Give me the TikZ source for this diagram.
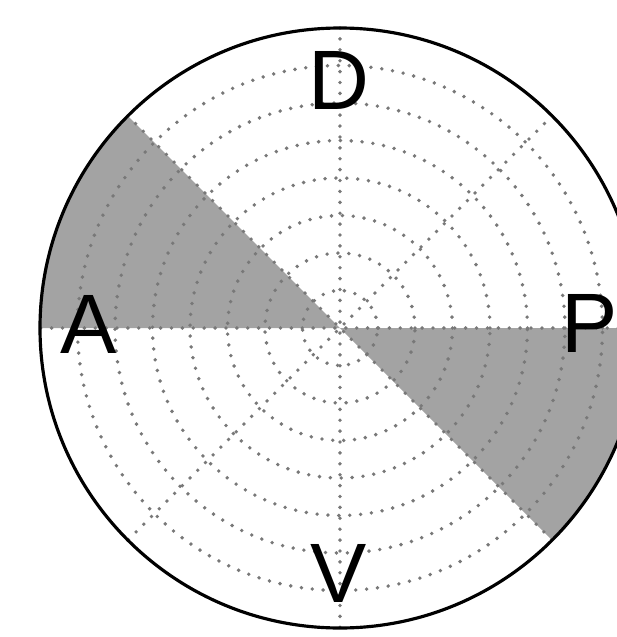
\documentclass[tikz,border=0pt]{standalone}
\usepackage{fontspec}
\setmainfont{Liberation Sans}
\definecolor{shade}{RGB}{163,163,163}
\definecolor{gridc}{RGB}{120,120,120}
\tikzset{
  ring/.style={draw=gridc, line width=1.1pt, line cap=round, dash pattern=on 0pt off 3.1pt},
  rim/.style={draw=black, line width=0.9pt},
  sector/.style={fill=shade, draw=none},
  lab/.style={font=\fontsize{24}{28}\selectfont, inner sep=0pt}
}

\begin{document}
\begin{tikzpicture}[x=1cm,y=1cm]
  \useasboundingbox (-3.40,-3.09) rectangle (2.77,3.28);
  \begin{scope}
    \clip (-3.40,-3.09) rectangle (2.77,3.28);
    % shaded sectors
    \fill[sector] (0,0) -- (135:3) arc[start angle=135, end angle=180, radius=3] -- cycle;
    \fill[sector] (0,0) -- (-45:3) arc[start angle=-45, end angle=0, radius=3] -- cycle;
    % dotted polar grid
    \foreach \r in {1,...,7}
      \draw[ring] (0,0) circle[radius=\r*0.375];
    \foreach \a in {0,45,90,135}
      \draw[ring] (\a:3) -- (\a+180:3);
    % rim
    \draw[rim] (0,0) circle[radius=3];
  \end{scope}

  % axis letters
  \node[lab] (lblD) at (-0.01,2.48) {D};
  \node[lab] (lblA) at (-2.51,0.04) {A};
  \node[lab] (lblP) at (2.50,0.05) {P};
  \node[lab] (lblV) at (-0.01,-2.45) {V};
\end{tikzpicture}
\end{document}
